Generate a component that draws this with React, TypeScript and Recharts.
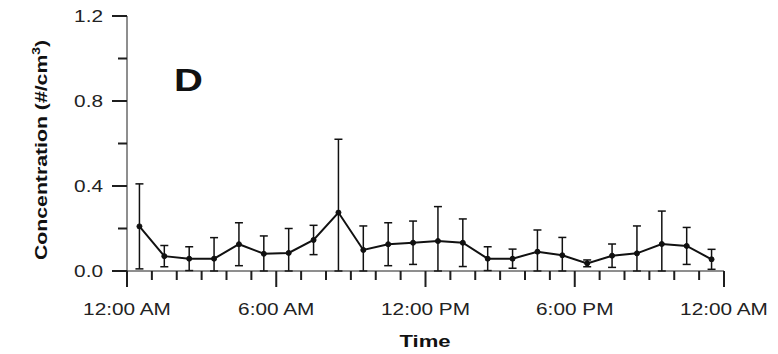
import React from 'react';
import { ComposedChart, Line, ErrorBar, XAxis, YAxis, Label } from 'recharts';

// hour of day (mid-hour bins)
const hours = [0.5, 1.5, 2.5, 3.5, 4.5, 5.5, 6.5, 7.5, 8.5, 9.5, 10.5, 11.5, 12.5, 13.5, 14.5, 15.5, 16.5, 17.5, 18.5, 19.5, 20.5, 21.5, 22.5, 23.5];
// mean concentration (#/cm3)
const means = [0.21, 0.07, 0.058, 0.058, 0.126, 0.081, 0.085, 0.146, 0.275, 0.099, 0.126, 0.133, 0.141, 0.133, 0.058, 0.058, 0.091, 0.074, 0.036, 0.072, 0.083, 0.127, 0.118, 0.055];
// standard deviation
const sds = [0.2, 0.05, 0.056, 0.099, 0.101, 0.084, 0.115, 0.069, 0.345, 0.113, 0.101, 0.102, 0.162, 0.112, 0.056, 0.045, 0.102, 0.084, 0.016, 0.055, 0.129, 0.155, 0.087, 0.047];

const xTicks = [0, 1, 2, 3, 4, 5, 6, 7, 8, 9, 10, 11, 12, 13, 14, 15, 16, 17, 18, 19, 20, 21, 22, 23, 24];
const xMajorTicks = [0, 6, 12, 18, 24];
const xMajorLabels = ['12:00 AM', '6:00 AM', '12:00 PM', '6:00 PM', '12:00 AM'];
const yTicks = [0, 0.2, 0.4, 0.6, 0.8, 1.0, 1.2];
const yMajorTicks = [0, 0.4, 0.8, 1.2];

// error bars are clipped at the x axis
const data = hours.map((h, i) => ({
  hour: h,
  conc: means[i],
  err: [Math.min(sds[i], means[i]), sds[i]],
}));

const W = 778;
const H = 354;
const MARGIN = { top: 16, right: 54, bottom: 0, left: 0 };
const Y_AXIS_W = 127;
const X_AXIS_H = 83;
const X_MAX = 24;
const Y_MAX = 1.2;

// plot box, from the layout above
const plotLeft = MARGIN.left + Y_AXIS_W;
const plotRight = W - MARGIN.right;
const plotTop = MARGIN.top;
const plotBottom = H - MARGIN.bottom - X_AXIS_H;

const FONT = '"Liberation Sans", Arial, sans-serif';
const INK = '#1e1e1e';
const MINOR = 9;
const GAP = 2; // recharts default tickMargin

const isIn = (arr: number[], v: number) => arr.some((m) => Math.abs(m - v) < 1e-6);

const XTickLabel = (props: any) => {
  const { x, y, payload } = props;
  const v = payload.value;
  if (!isIn(xMajorTicks, v)) return <g />;
  const axisY = y - MINOR - GAP;
  return (
    <text
      transform={`translate(${x},${axisY + 44}) scale(1.3,1)`}
      textAnchor="middle"
      fontFamily={FONT}
      fontSize={16}
      fill="#222"
    >
      {xMajorLabels[xMajorTicks.indexOf(v)]}
    </text>
  );
};

const YTickLabel = (props: any) => {
  const { x, y, payload } = props;
  const v = Number(payload.value);
  if (!isIn(yMajorTicks, v)) return <g />;
  const axisX = x + MINOR + GAP;
  return (
    <text
      transform={`translate(${axisX - 24},${y + 6}) scale(1.3,1)`}
      textAnchor="end"
      fontFamily={FONT}
      fontSize={16}
      fill="#222"
    >
      {v.toFixed(1)}
    </text>
  );
};

// tick marks, major and minor
const XMarks = () => (
  <g>
    {xTicks.map((t) => {
      const px = plotLeft + (t / X_MAX) * (plotRight - plotLeft);
      return <rect key={t} x={px - 1} y={plotBottom} width={2} height={isIn(xMajorTicks, t) ? 16 : MINOR} fill={INK} />;
    })}
  </g>
);

const YMarks = () => (
  <g>
    {yTicks.map((t) => {
      const py = plotBottom - (t / Y_MAX) * (plotBottom - plotTop);
      const len = isIn(yMajorTicks, t) ? 15 : MINOR;
      return <rect key={t} x={plotLeft - len} y={py - 1} width={len} height={2} fill={INK} />;
    })}
  </g>
);

export default function App() {
  return (
    <div style={{ position: 'absolute', left: 0, top: 0, width: W, height: H }}>
      <ComposedChart width={W} height={H} data={data} margin={MARGIN}>
        <XAxis
          dataKey="hour"
          type="number"
          domain={[0, X_MAX]}
          ticks={xTicks}
          height={X_AXIS_H}
          tickSize={MINOR}
          tickLine={false}
          tick={<XTickLabel />}
          stroke={INK}
        >
          <Label
            content={() => (
              <g fontFamily={FONT} fill="#111">
                <XMarks />
                <text transform="translate(425,347) scale(1.3,1)" textAnchor="middle" fontSize={17} fontWeight="bold">
                  Time
                </text>
                <text transform="translate(174,91) scale(1.25,1)" fontSize={32} fontWeight="bold">
                  D
                </text>
              </g>
            )}
          />
        </XAxis>
        <YAxis
          type="number"
          domain={[0, Y_MAX]}
          ticks={yTicks}
          width={Y_AXIS_W}
          tickSize={MINOR}
          tickLine={false}
          tick={<YTickLabel />}
          stroke={INK}
        >
          <Label
            content={() => (
              <g>
                <YMarks />
                <text
                  transform="translate(47,150) rotate(-90) scale(1.25,1)"
                  textAnchor="middle"
                  fontFamily={FONT}
                  fontSize={17}
                  fontWeight="bold"
                  fill="#111"
                >
                  Concentration (#/cm
                  <tspan dy={-7} fontSize={11}>3</tspan>
                  <tspan dy={7}>)</tspan>
                </text>
              </g>
            )}
          />
        </YAxis>
        <Line
          dataKey="conc"
          type="linear"
          stroke="#111"
          strokeWidth={2}
          dot={{ r: 2.5, fill: '#111', stroke: '#111', strokeWidth: 1 }}
          isAnimationActive={false}
        >
          <ErrorBar dataKey="err" width={4} stroke="#111" strokeWidth={1.5} direction="y" />
        </Line>
      </ComposedChart>
    </div>
  );
}
